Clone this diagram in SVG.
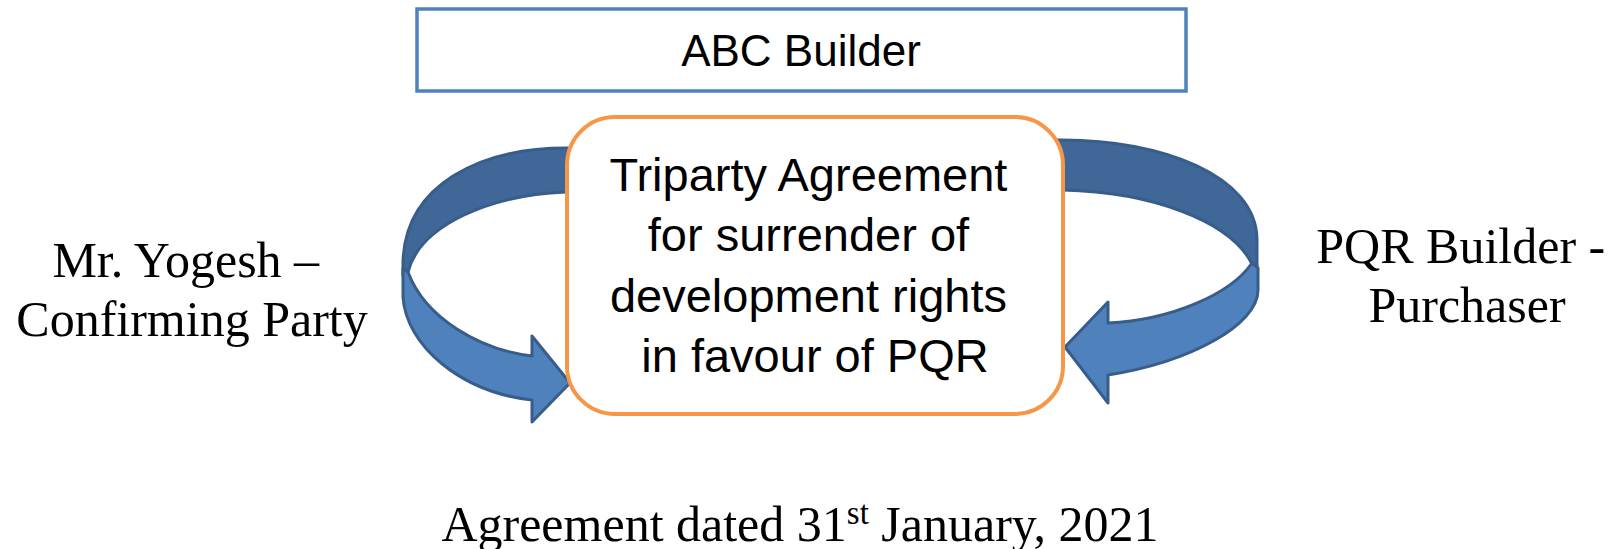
<svg xmlns="http://www.w3.org/2000/svg" width="1624" height="549" viewBox="0 0 1624 549">
  <style>
    .bg { fill: #ffffff; }
    .back { fill: #3F6797; stroke: #385D8A; stroke-width: 3; stroke-linejoin: round; }
    .front { fill: #4F81BD; stroke: #385D8A; stroke-width: 3; stroke-linejoin: round; }
    .box-blue { fill: #ffffff; stroke: #4F81BD; stroke-width: 3.5; }
    .box-orange { fill: #ffffff; stroke: #F79646; stroke-width: 4; }
    .sans { font-family: "Liberation Sans", Arial, sans-serif; fill: #000000; text-anchor: middle; }
    .serif { font-family: "Liberation Serif", "Times New Roman", serif; fill: #000000; text-anchor: middle; font-size: 50px; }
  </style>

  <rect class="bg" x="0" y="0" width="1624" height="549"/>

  <!-- curved arrows on both sides of the agreement box -->
  <g id="connectors">
    <g id="arrow-left">
      <path class="back" d="M 580,148 L 566,148 C 480,148 405,185 403,262 L 403,276 L 408,272 C 420,225 490,195 566,192 L 580,192 Z"/>
      <path class="front" d="M 408,272 L 403,268 L 403,297 C 406,345 460,392 532,400 L 532,422 L 570,383 L 532,336 L 532,356 C 480,350 425,318 408,272 Z"/>
    </g>
    <g id="arrow-right">
      <path class="back" d="M 1050,140 L 1063,140 C 1160,140 1257,175 1257,240 L 1257,268 L 1252,264 C 1230,220 1150,192 1063,190 L 1050,190 Z"/>
      <path class="front" d="M 1252,263 L 1258,268 L 1258,290 C 1258,325 1190,362 1108,375 L 1108,403 L 1065,347 L 1108,302 L 1108,323 C 1170,320 1230,295 1252,263 Z"/>
    </g>
  </g>

  <g id="node-abc">
    <rect class="box-blue" x="417" y="9" width="769" height="82"/>
    <text class="sans" x="801" y="66" font-size="44">ABC Builder</text>
  </g>

  <g id="node-agreement">
    <rect class="box-orange" x="567" y="117" width="496" height="297" rx="48" ry="48"/>
    <text class="sans" font-size="47">
      <tspan x="815" y="191">Triparty Agreement</tspan>
      <tspan x="815" y="251">for surrender of</tspan>
      <tspan x="815" y="311.5">development rights</tspan>
      <tspan x="815" y="372">in favour of PQR</tspan>
    </text>
  </g>

  <g id="node-yogesh">
    <text class="serif">
      <tspan x="192" y="277">Mr. Yogesh –</tspan>
      <tspan x="192" y="336">Confirming Party</tspan>
    </text>
  </g>

  <g id="node-pqr">
    <text class="serif">
      <tspan x="1467" y="263">PQR Builder -</tspan>
      <tspan x="1467" y="322">Purchaser</tspan>
    </text>
  </g>

  <g id="date">
    <text class="serif" x="800" y="541">Agreement dated 31<tspan font-size="33" dy="-17">st</tspan><tspan dy="17"> January, 2021</tspan></text>
  </g>
</svg>
